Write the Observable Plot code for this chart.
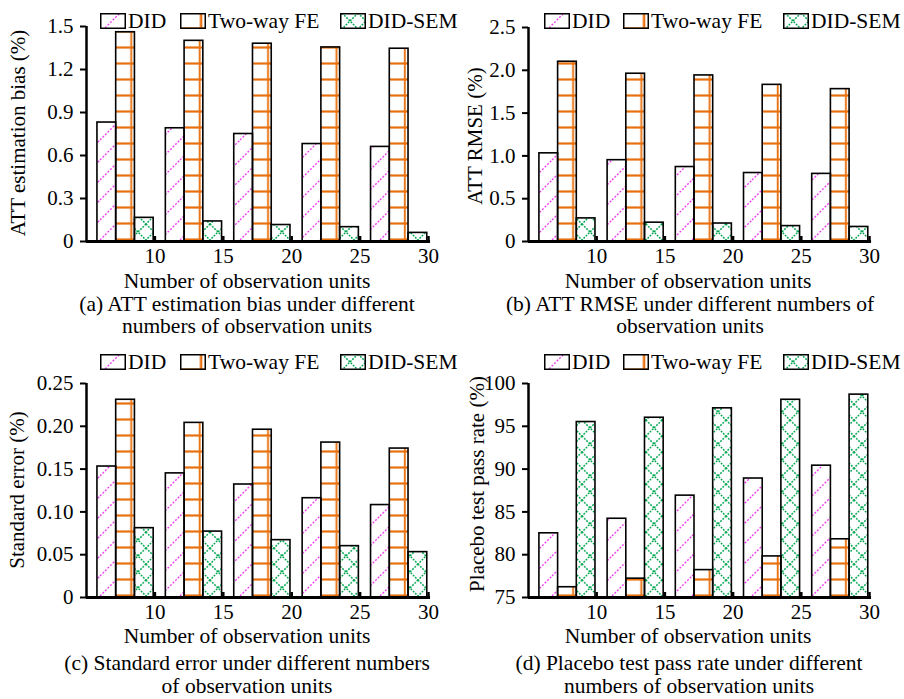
<!DOCTYPE html>
<html><head><meta charset="utf-8">
<script src="https://cdn.jsdelivr.net/npm/d3@7"></script>
<script src="https://cdn.jsdelivr.net/npm/@observablehq/plot@0.6"></script>
<style>
body{margin:0;background:#fff;}
#root{position:relative;width:904px;height:699px;font-family:"Liberation Serif","Times New Roman",serif;color:#000;overflow:hidden;}
.abs{position:absolute;white-space:nowrap;line-height:16px;font-size:21.5px;}
.ctr{transform:translateX(-50%);text-align:center;}
.rot{transform:translate(-50%,-50%) rotate(-90deg);font-size:21px;line-height:22px;}
.leg{position:absolute;display:flex;align-items:center;font-size:21.5px;line-height:20px;white-space:nowrap;transform:translateY(-50%);}
.leg svg{display:block;margin-right:2px;}
.pl{position:absolute;}
</style></head><body>
<svg width="0" height="0" style="position:absolute">
<defs>
<pattern id="pDID" patternUnits="userSpaceOnUse" width="20" height="20">
<rect width="20" height="20" fill="#fff"/>
<path d="M0,20 L20,0 M-5,5 L5,-5 M15,25 L25,15" stroke="#f040f0" stroke-width="1.4" stroke-dasharray="2 1.6"/>
</pattern>
<pattern id="pFEh" patternUnits="userSpaceOnUse" width="16" height="16" y="8">
<rect width="16" height="16" fill="#fff"/>
<path d="M0,7.5 H16" stroke="#e8700e" stroke-width="2.2"/>
</pattern>
<pattern id="pFEv" patternUnits="objectBoundingBox" width="1" height="1" patternContentUnits="objectBoundingBox">
<rect x="0.78" y="0" width="0.1" height="1" fill="#e8700e"/>
</pattern>
<pattern id="pSEM" patternUnits="userSpaceOnUse" width="16" height="16" x="2">
<rect width="16" height="16" fill="#fff"/>
<path d="M0,0 L16,16 M16,0 L0,16" stroke="#00a650" stroke-width="1.5" stroke-dasharray="1.8 1.3"/>
</pattern>
</defs>
</svg>
<div id="root"></div>
<script>
// ---- data ----
const units = [10, 15, 20, 25, 30];
const seriesNames = ["DID", "Two-way FE", "DID-SEM"];

const biasDID = [0.83, 0.79, 0.75, 0.68, 0.66];
const biasFE  = [1.46, 1.40, 1.38, 1.354, 1.345];
const biasSEM = [0.165, 0.14, 0.115, 0.10, 0.06];

const rmseDID = [1.03, 0.95, 0.87, 0.80, 0.79];
const rmseFE  = [2.10, 1.96, 1.94, 1.83, 1.78];
const rmseSEM = [0.27, 0.22, 0.21, 0.18, 0.17];

const seDID = [0.153, 0.145, 0.132, 0.116, 0.108];
const seFE  = [0.231, 0.204, 0.196, 0.181, 0.174];
const seSEM = [0.081, 0.077, 0.067, 0.060, 0.053];

const passDID = [82.5, 84.2, 86.9, 88.9, 90.4];
const passFE  = [76.2, 77.2, 78.2, 79.8, 81.8];
const passSEM = [95.5, 96.0, 97.1, 98.1, 98.7];

const ticksA = [0, 0.3, 0.6, 0.9, 1.2, 1.5];
const ticksB = [0, 0.5, 1.0, 1.5, 2.0, 2.5];
const ticksC = [0, 0.05, 0.10, 0.15, 0.20, 0.25];
const ticksD = [75, 80, 85, 90, 95, 100];

const xTitle = "Number of observation units";

const root = document.getElementById("root");
const FONT = '"Liberation Serif","Times New Roman",serif';

function addText(txt, cls, left, top, extra) {
  const d = document.createElement("div");
  d.className = "abs " + cls;
  d.textContent = txt;
  d.style.left = left + "px";
  d.style.top = top + "px";
  if (extra) Object.assign(d.style, extra);
  root.appendChild(d);
  return d;
}

function swatch(k) {
  const ns = "http://www.w3.org/2000/svg";
  const s = document.createElementNS(ns, "svg");
  s.setAttribute("width", 26); s.setAttribute("height", 16);
  const fills = k === 0 ? ["url(#pDID)"] : k === 1 ? ["url(#pFEh)", "url(#pFEv)"] : ["url(#pSEM)"];
  for (const f of fills) {
    const r = document.createElementNS(ns, "rect");
    r.setAttribute("x", 0.75); r.setAttribute("y", 0.75);
    r.setAttribute("width", 24.5); r.setAttribute("height", 14.5);
    r.setAttribute("fill", f);
    s.appendChild(r);
  }
  const o = document.createElementNS(ns, "rect");
  o.setAttribute("x", 0.75); o.setAttribute("y", 0.75);
  o.setAttribute("width", 24.5); o.setAttribute("height", 14.5);
  o.setAttribute("fill", "none"); o.setAttribute("stroke", "#000"); o.setAttribute("stroke-width", 1.5);
  s.appendChild(o);
  return s;
}

function legend(xs, cy) {
  seriesNames.forEach((name, k) => {
    const d = document.createElement("div");
    d.className = "leg";
    d.style.left = xs[k] + "px";
    d.style.top = cy + "px";
    d.appendChild(swatch(k));
    const t = document.createElement("span");
    t.textContent = name;
    d.appendChild(t);
    root.appendChild(d);
  });
}

function panel({left, top, marginLeft, marginRight, marginTop, vals, yDomain, yTicks, fmt}) {
  const y0 = yDomain[0];
  const rows = units.flatMap((n, i) => seriesNames.map((s, k) => ({n, k, v: vals[k][i]})));
  const bw = 1.37;
  const x1 = d => d.n - 4.2 + d.k * bw;
  const x2 = d => d.n - 4.2 + (d.k + 1) * bw;
  const base = () => y0;
  const byK = k => rows.filter(d => d.k === k);
  const chart = Plot.plot({
    width: 452, height: 300,
    marginLeft, marginRight, marginTop, marginBottom: 59,
    style: {fontFamily: FONT, fontSize: "21px", color: "#000", background: "transparent", overflow: "visible"},
    x: {domain: [5, 30], label: null},
    y: {domain: yDomain, label: null},
    marks: [
      Plot.rect(byK(0), {x1, x2, y1: base, y2: "v", fill: "url(#pDID)"}),
      Plot.rect(byK(1), {x1, x2, y1: base, y2: "v", fill: "url(#pFEh)"}),
      Plot.rect(byK(1), {x1, x2, y1: base, y2: "v", fill: "url(#pFEv)"}),
      Plot.rect(byK(2), {x1, x2, y1: base, y2: "v", fill: "url(#pSEM)"}),
      Plot.rect(rows, {x1, x2, y1: base, y2: "v", fill: "none", stroke: "#000", strokeWidth: 1.6}),
      Plot.ruleX([5], {y1: yDomain[0], y2: yDomain[1], stroke: "#000", strokeWidth: 2.5}),
      Plot.ruleY([y0], {x1: 5, x2: 30.15, stroke: "#000", strokeWidth: 3}),
      Plot.axisY({ticks: yTicks, tickSize: 6, tickPadding: 7, tickFormat: fmt, strokeWidth: 2, label: null, fontSize: 21}),
      Plot.axisX({ticks: units, tickSize: 0, tickPadding: 7, label: null, fontSize: 21}),
      Plot.axisX({ticks: units, tickSize: -5, tickFormat: () => "", strokeWidth: 2.5, label: null})
    ]
  });
  chart.classList.add("pl");
  chart.style.left = left + "px";
  chart.style.top = top + "px";
  root.appendChild(chart);
}

const fmt1 = d => d === 0 ? "0" : d.toFixed(1);
const fmt2 = d => d === 0 ? "0" : d.toFixed(2);
const fmt0 = d => String(d);

panel({left: 0, top: 0, marginLeft: 86, marginRight: 24, marginTop: 26,
  vals: [biasDID, biasFE, biasSEM], yDomain: [0, 1.5], yTicks: ticksA, fmt: fmt1});
panel({left: 452, top: 0, marginLeft: 76, marginRight: 35, marginTop: 27,
  vals: [rmseDID, rmseFE, rmseSEM], yDomain: [0, 2.5], yTicks: ticksB, fmt: fmt1});
panel({left: 0, top: 356, marginLeft: 86, marginRight: 24, marginTop: 27,
  vals: [seDID, seFE, seSEM], yDomain: [0, 0.25], yTicks: ticksC, fmt: fmt2});
panel({left: 452, top: 356, marginLeft: 76, marginRight: 35, marginTop: 27,
  vals: [passDID, passFE, passSEM], yDomain: [75, 100], yTicks: ticksD, fmt: fmt0});

legend([100, 180, 340], 21);
legend([544, 623, 783], 21);
legend([100, 180, 340], 362);
legend([544, 623, 783], 362);

// axis titles (top = baseline - 15 for a 16px line box)
addText(xTitle, "ctr", 247, 288 - 15);
addText(xTitle, "ctr", 688, 288 - 15);
addText(xTitle, "ctr", 247, 643 - 15);
addText(xTitle, "ctr", 688, 643 - 15);

addText("ATT estimation bias (%)", "rot", 18, 133);
addText("ATT RMSE (%)", "rot", 475, 136);
addText("Standard error (%)", "rot", 17, 490);
addText("Placebo test pass rate (%)", "rot", 477, 484);

// captions
addText("(a) ATT estimation bias under different", "ctr", 247, 311 - 15);
addText("numbers of observation units", "ctr", 247, 333 - 15);
addText("(b) ATT RMSE under different numbers of", "ctr", 690, 311 - 15);
addText("observation units", "ctr", 690, 333 - 15);
addText("(c) Standard error under different numbers", "ctr", 247, 670 - 15);
addText("of observation units", "ctr", 247, 693 - 15);
addText("(d) Placebo test pass rate under different", "ctr", 689, 670 - 15);
addText("numbers of observation units", "ctr", 689, 693 - 15);
</script>
</body></html>
